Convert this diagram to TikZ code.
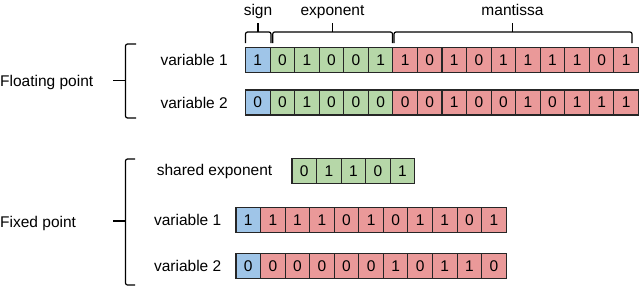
\documentclass[tikz,border=0pt]{standalone}
\usepackage{fontspec}
\setmainfont{Liberation Sans}
\usepackage{xcolor}
\usetikzlibrary{positioning}

\definecolor{sgnblue}{HTML}{9FC5E8}
\definecolor{expgreen}{HTML}{B6D7A8}
\definecolor{mantred}{HTML}{EA9999}

\begin{document}
\begin{tikzpicture}[x=1pt,y=-1pt,
  every node/.style={font=\fontsize{15.5}{18}\selectfont},
  bit/.style={draw=black!85,line width=1.1pt,minimum width=24.56pt,minimum height=25pt,inner sep=0pt},
  lbl/.style={inner sep=5pt},
  brc/.style={line width=1.2pt,rounded corners=2pt}]
\useasboundingbox (0,0) rectangle (640,287);

% floating point, variable 1 and 2
\foreach \b [count=\i from 0] in {1,0,1,0,0,1,1,0,1,0,1,1,1,1,0,1} {
  \ifnum\i=0 \def\cc{sgnblue}\else\ifnum\i<6 \def\cc{expgreen}\else\def\cc{mantred}\fi\fi
  \node[bit,fill=\cc] (fa\i) at ({257.8+24.56*\i},60) {\b};
}
\foreach \b [count=\i from 0] in {0,0,1,0,0,0,0,0,1,0,0,1,0,1,1,1} {
  \ifnum\i=0 \def\cc{sgnblue}\else\ifnum\i<6 \def\cc{expgreen}\else\def\cc{mantred}\fi\fi
  \node[bit,fill=\cc] (fb\i) at ({257.8+24.56*\i},102.5) {\b};
}
\node[lbl,left=12pt of fa0] (lfa) {variable 1};
\node[lbl,left=12pt of fb0] (lfb) {variable 2};

% fixed point
\foreach \b [count=\i from 0] in {0,1,1,0,1}
  \node[bit,fill=expgreen] (se\i) at ({304.3+24.56*\i},171) {\b};
\foreach \b [count=\i from 0] in {1,1,1,1,0,1,0,1,1,0,1} {
  \ifnum\i=0 \def\cc{sgnblue}\else\def\cc{mantred}\fi
  \node[bit,fill=\cc] (xa\i) at ({248.3+24.56*\i},220) {\b};
}
\foreach \b [count=\i from 0] in {0,0,0,0,0,0,1,0,1,1,0} {
  \ifnum\i=0 \def\cc{sgnblue}\else\def\cc{mantred}\fi
  \node[bit,fill=\cc] (xb\i) at ({248.3+24.56*\i},266) {\b};
}
\node[lbl,left=14pt of se0] (lse) {shared exponent};
\node[lbl,left=9pt of xa0] (lxa) {variable 1};
\node[lbl,left=9pt of xb0] (lxb) {variable 2};

% field braces
\node[anchor=base] (tsgn) at (258,15) {sign};
\node[anchor=base] (texp) at (332.5,15) {exponent};
\node[anchor=base] (tman) at (512.5,15) {mantissa};
\draw[brc] (245.5,43) -- (245.5,32) -- (271,32) -- (271,43);
\draw[line width=1.2pt] (258,32) -- (258,23);
\draw[brc] (272.7,43) -- (272.7,32) -- (392.5,32) -- (392.5,43);
\draw[line width=1.2pt] (332.5,32) -- (332.5,23);
\draw[brc] (394,43) -- (394,32) -- (632,32) -- (632,43);
\draw[line width=1.2pt] (512.5,32) -- (512.5,23);

% group braces
\node[anchor=base west,inner sep=0pt] (flt) at (0,86) {Floating point};
\node[anchor=base west,inner sep=0pt] (fix) at (0,227) {Fixed point};
\draw[brc] (136,44) -- (125.5,44) -- (125.5,118) -- (136,118);
\draw[line width=1.2pt] (113,80.5) -- (125.5,80.5);
\draw[brc] (135,159) -- (125.5,159) -- (125.5,285) -- (135,285);
\draw[line width=1.2pt] (113,221) -- (125.5,221);
\end{tikzpicture}
\end{document}
